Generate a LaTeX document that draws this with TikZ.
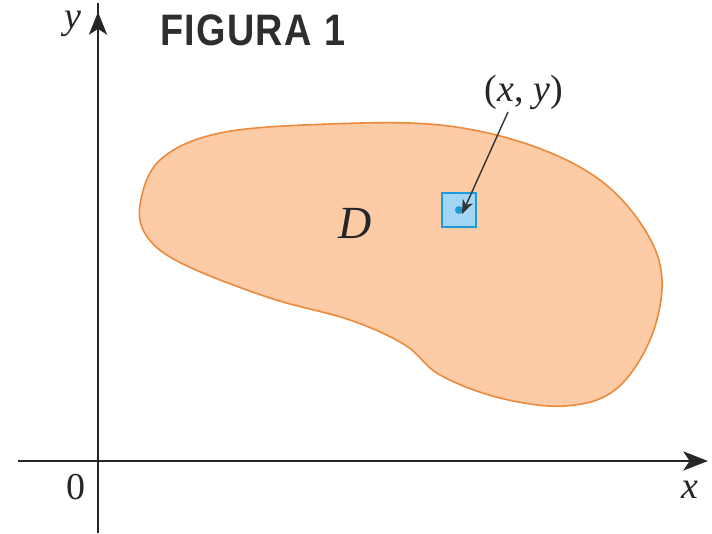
\documentclass[tikz,border=0pt]{standalone}
\usepackage{fontspec}
\setmainfont{Liberation Serif}
\newfontfamily\titlefont{Liberation Sans}
\usetikzlibrary{arrows.meta}
\definecolor{blobfill}{HTML}{FDCBA6}
\definecolor{blobline}{HTML}{EB8A3C}
\definecolor{sqfill}{HTML}{A3D5F5}
\definecolor{sqline}{HTML}{1E9AD6}
\definecolor{titlegray}{HTML}{2E2E2E}
\colorlet{ink}{black!85}
\tikzset{
  axis/.style={line width=1.8pt, draw=ink},
  axhead/.style={fill=ink, draw=ink, line width=0.6pt, line join=miter},
  lbl/.style={font=\fontsize{38}{44}\selectfont, text=ink, inner sep=0pt},
  pointer/.style={line width=1.4pt, draw=black!80, -{Stealth[length=14pt,width=11pt,inset=4pt,fill=black!80]}}
}
\begin{document}
\begin{tikzpicture}[x=1pt,y=-1pt]
\useasboundingbox (0,0) rectangle (712,533);
% region D
\draw[fill=blobfill, draw=blobline, line width=1.6pt]
  plot[smooth cycle, tension=0.6] coordinates {
  (140,205) (160,160) (220,133) (330,124) (440,125) (530,145) (600,180)
  (645,230) (662,280) (650,340) (615,390) (565,406) (500,398) (440,375)
  (405,345) (350,320) (270,298) (185,265) (148,238)};
% axes
\coordinate (xs) at (18,461);
\coordinate (xe) at (707,461);
\coordinate (ys) at (98,533);
\coordinate (ye) at (98,13);
\draw[axis] (xs) -- ([xshift=-10pt]xe);
\draw[axis] (ys) -- ([yshift=10pt]ye);
\fill[axhead] (xe) -- ++(-23,-9) -- ++(6,9) -- ++(-6,9) -- cycle;
\fill[axhead] (ye) -- ++(-8.5,21) -- ++(8.5,-5.5) -- ++(8.5,5.5) -- cycle;
\node[lbl] (ylab) at (73,24) {\textit{y}};
\node[lbl] (xlab) at (690,490) {\textit{x}};
\node[lbl] (zero) at (76,487) {0};
\node[lbl, font=\fontsize{46}{50}\selectfont] (D) at (355,223) {\textit{D}};
% title
\node[inner sep=0pt, anchor=west, text=titlegray] (title) at (160,30)
  {\scalebox{0.9}[1.05]{\titlefont\bfseries\fontsize{42}{46}\selectfont F\kern1.5pt I\kern1.5pt G\kern1.5pt U\kern1.5pt R\kern1.5pt A\kern2pt{} 1}};
% small square
\node[draw=sqline, fill=sqfill, line width=1.5pt, minimum size=34pt, inner sep=0pt] (sq) at (459,210) {};
\fill[sqline] (sq.center) circle (4pt);
\node[lbl] (pt) at (524,92) {(\textit{x}, \textit{y})};
\coordinate (ps) at (508,112);
\draw[pointer] (ps) -- ([xshift=3pt,yshift=-4pt]sq.center);
\end{tikzpicture}
\end{document}
